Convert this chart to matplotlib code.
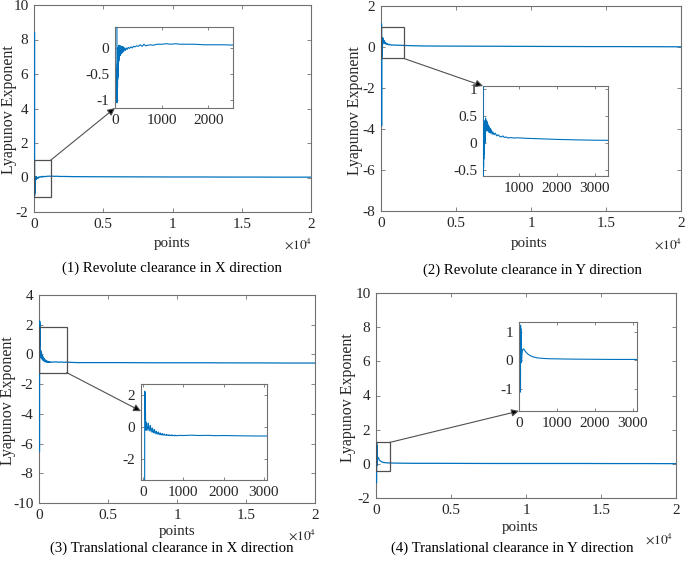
import matplotlib
matplotlib.use('Agg')
import matplotlib.pyplot as plt
from matplotlib.patches import Rectangle, ConnectionPatch

plt.rcParams['font.family'] = ['Liberation Serif', 'DejaVu Serif']
plt.rcParams['mathtext.fontset'] = 'stix'
plt.rcParams['axes.unicode_minus'] = False

# ---------------- data ----------------
captions = ["(1) Revolute clearance in X direction",
            "(2) Revolute clearance in Y direction",
            "(3) Translational clearance in X direction",
            "(4) Translational clearance in Y direction"]
xlabel = "points"
ylabel = "Lyapunov Exponent"
main_xticks = [0, 5000, 10000, 15000, 20000]
main_xticklabels = ["0", "0.5", "1", "1.5", "2"]

# (1) revolute X
x1 = [40, 42, 44, 46, 48, 50, 52, 54, 56, 58, 60, 62, 64, 66, 68, 70, 72, 75, 78, 82,
      86, 92, 100, 108, 116, 125, 135, 145, 155, 166, 178, 190, 205, 220, 240, 260,
      285, 310, 340, 370, 400, 430, 460, 500, 540, 580, 620, 660, 700, 760, 820, 900,
      1000, 1100, 1200, 1300, 1400, 1500, 1700, 1900, 2100, 2300, 2500, 3000, 4000,
      6000, 8000, 10000, 12000, 14000, 16000, 18000, 20000]
y1 = [8.4, -1.05, -0.7, -0.95, -0.4, -0.85, -0.3, -0.75, -0.2, -0.6, -0.1, -0.55,
      -0.05, -0.45, 0.0, -0.4, 0.02, -0.3, 0.04, -0.25, 0.05, -0.2, 0.03, -0.15, 0.04,
      -0.12, 0.02, -0.1, 0.03, -0.08, 0.02, -0.06, 0.0, -0.05, 0.0, -0.03, 0.01, -0.01,
      0.02, 0.0, 0.03, 0.02, 0.04, 0.03, 0.06, 0.03, 0.07, 0.04, 0.05, 0.06, 0.05, 0.07,
      0.07, 0.08, 0.07, 0.08, 0.07, 0.07, 0.07, 0.06, 0.06, 0.06, 0.055, 0.05, 0.045,
      0.04, 0.035, 0.03, 0.03, 0.025, 0.025, 0.02, 0.02]

# (2) revolute Y
x2 = [40, 42, 44, 46, 48, 50, 52, 55, 58, 61, 64, 67, 70, 74, 80, 86, 92, 98, 104, 112,
      120, 128, 136, 145, 155, 165, 175, 185, 198, 212, 226, 240, 260, 280, 300, 330,
      360, 400, 440, 480, 520, 560, 600, 650, 700, 760, 850, 950, 1050, 1200, 1400,
      1600, 1800, 2000, 2300, 2600, 3000, 3400, 4000, 6000, 8000, 10000, 12000, 14000,
      16000, 18000, 20000]
y2 = [1.12, -3.85, 0.3, -0.5, 0.28, -0.45, 0.25, -0.3, 0.2, -0.2, 0.15, -0.15, 0.3,
      -0.1, 0.38, 0.0, 0.42, 0.1, 0.46, 0.25, 0.42, 0.22, 0.4, 0.24, 0.37, 0.22, 0.33,
      0.2, 0.3, 0.19, 0.27, 0.18, 0.24, 0.16, 0.2, 0.15, 0.18, 0.13, 0.15, 0.12, 0.11,
      0.13, 0.1, 0.11, 0.09, 0.1, 0.09, 0.095, 0.09, 0.085, 0.08, 0.075, 0.07, 0.065,
      0.06, 0.055, 0.05, 0.048, 0.045, 0.04, 0.035, 0.03, 0.025, 0.02, 0.02, 0.015, 0.01]

# (3) translational X
x3 = [40, 42, 44, 46, 48, 50, 52, 54, 56, 58, 60, 62, 64, 66, 68, 70, 73, 76, 82, 100,
      125, 130, 150, 175, 180, 200, 225, 230, 250, 275, 280, 300, 325, 330, 350, 375,
      380, 400, 425, 430, 450, 475, 480, 500, 525, 530, 555, 580, 585, 610, 640, 645,
      680, 710, 715, 750, 790, 795, 840, 900, 1000, 1200, 1400, 1600, 1800, 2000, 2200,
      2500, 2800, 3100, 4000, 6000, 8000, 10000, 12000, 14000, 16000, 18000, 20000]
y3 = [-6.5, 2.25, 1.5, 2.2, 1.2, 2.0, 1.0, 1.7, 0.8, 1.3, 0.5, 0.9, 0.1, 0.35, -0.1,
      0.2, -0.15, -0.2, 0.3, 0.05, -0.2, 0.25, -0.05, -0.25, 0.1, -0.15, -0.32, -0.05,
      -0.25, -0.37, -0.15, -0.3, -0.42, -0.25, -0.36, -0.45, -0.3, -0.4, -0.48, -0.36,
      -0.43, -0.5, -0.4, -0.46, -0.5, -0.43, -0.49, -0.52, -0.45, -0.5, -0.52, -0.47,
      -0.51, -0.53, -0.48, -0.52, -0.54, -0.5, -0.53, -0.51, -0.52, -0.5, -0.52, -0.51,
      -0.53, -0.52, -0.53, -0.54, -0.55, -0.55, -0.55, -0.55, -0.56, -0.56, -0.56,
      -0.57, -0.57, -0.58, -0.58]

# (4) translational Y
x4 = [40, 42, 44, 46, 48, 50, 52, 54, 56, 58, 61, 64, 67, 70, 76, 85, 100, 115, 130, 150,
      175, 200, 250, 300, 350, 400, 500, 600, 700, 800, 1000, 1200, 1500, 2000, 2500,
      3000, 3200, 4000, 6000, 8000, 10000, 12000, 14000, 16000, 18000, 20000]
y4 = [-1.1, 1.22, 0.5, 1.1, 0.3, 0.9, 0.1, 0.6, -0.05, 0.3, -0.08, 0.05, -0.07, 0.0,
      0.15, 0.3, 0.38, 0.4, 0.38, 0.34, 0.3, 0.26, 0.2, 0.16, 0.13, 0.11, 0.08, 0.07,
      0.06, 0.055, 0.05, 0.045, 0.04, 0.035, 0.03, 0.03, 0.03, 0.03, 0.025, 0.02, 0.02,
      0.02, 0.02, 0.015, 0.015, 0.01]

series_x = [x1, x2, x3, x4]
series_y = [y1, y2, y3, y4]

main_ylims = [(-2, 10), (-8, 2), (-10, 4), (-2, 10)]
main_yticks = [[-2, 0, 2, 4, 6, 8, 10], [-8, -6, -4, -2, 0, 2],
               [-10, -8, -6, -4, -2, 0, 2, 4], [-2, 0, 2, 4, 6, 8, 10]]
# zoom rectangles in main axes: (x0, x1, y0, y1)
zoom_rects = [(0, 1200, -1.15, 1.0), (0, 1530, -0.56, 1.0),
              (0, 2000, -1.22, 1.85), (0, 900, -0.42, 1.25)]
inset_xlims = [(0, 2530), (35, 3350), (-50, 3080), (0, 3110)]
inset_ylims = [(-1.15, 0.4), (-0.61, 1.05), (-3.3, 2.7), (-1.76, 1.33)]
inset_xticks = [[0, 1000, 2000], [1000, 2000, 3000], [0, 1000, 2000, 3000],
                [0, 1000, 2000, 3000]]
inset_yticks = [[-1, -0.5, 0], [-0.5, 0, 0.5, 1], [-2, 0, 2], [-1, 0, 1]]
inset_yticklabels = [["-1", "-0.5", "0"], ["-0.5", "0", "0.5", "1"],
                     ["-2", "0", "2"], ["-1", "0", "1"]]

# ---------------- layout (pixels) ----------------
W, H = 685, 565
fig = plt.figure(figsize=(W / 100, H / 100), dpi=100)
fig.patch.set_facecolor('white')


def box(l, t, r, b):
    return [l / W, 1 - b / H, (r - l) / W, (b - t) / H]


main_boxes = [(34, 5, 311, 212), (381, 6, 681, 211), (39, 295, 315, 503), (376, 293, 676, 498)]
inset_boxes = [(115, 27, 233, 108), (483, 86, 608, 176), (141, 384, 267, 480), (519, 322, 637, 411)]
ylabel_pos = [(9, 110), (355, 111), (8, 401), (348, 398)]
xlabel_pos = [(172, 243), (529, 243), (177, 532), (520, 528)]
exp_pos = [(298, 244), (668, 244), (302, 535), (659, 539)]
caption_pos = [(172, 268), (532, 270), (172, 548), (512, 548)]
# arrow: (corner of rect in main data coords, target in inset data coords)
arrow_from = [(1200, 1.0), (1530, -0.56), (2000, -1.22), (900, 1.25)]
arrow_to = [(0, -1.15), (35, 1.05), (-50, 1.0), (0, -1.76)]

LINE = '#0072BD'
AXC = '#707070'
TXT = '#262626'
FS = 11


def style(ax, fs):
    for s in ax.spines.values():
        s.set_color(AXC)
        s.set_linewidth(0.8)
    ax.tick_params(direction='in', top=True, right=True, length=3, width=0.6,
                   colors=AXC, labelcolor=TXT, labelsize=fs, pad=4)


for i in range(4):
    ax = fig.add_axes(box(*main_boxes[i]))
    ax.plot(series_x[i], series_y[i], color=LINE, lw=0.9, zorder=3)
    ax.set_xlim(0, 20000)
    ax.set_ylim(*main_ylims[i])
    ax.set_xticks(main_xticks)
    ax.set_xticklabels(main_xticklabels)
    ax.set_yticks(main_yticks[i])
    style(ax, FS)
    x0, xa, y0, ya = zoom_rects[i]
    ax.add_patch(Rectangle((x0, y0), xa - x0, ya - y0, fill=False,
                           edgecolor='#505050', lw=0.9, zorder=5))

    ins = fig.add_axes(box(*inset_boxes[i]))
    ins.set_facecolor('white')
    ins.plot(series_x[i], series_y[i], color=LINE, lw=0.8, zorder=3)
    ins.set_xlim(*inset_xlims[i])
    ins.set_ylim(*inset_ylims[i])
    ins.set_xticks(inset_xticks[i])
    ins.set_yticks(inset_yticks[i])
    ins.set_yticklabels(inset_yticklabels[i])
    style(ins, FS)
    ins.tick_params(length=2.5)

    con = ConnectionPatch(xyA=arrow_from[i], coordsA=ax.transData,
                          xyB=arrow_to[i], coordsB=ins.transData,
                          arrowstyle='-|>', mutation_scale=11, lw=0.8,
                          edgecolor='#505050', facecolor='black', zorder=10)
    fig.add_artist(con)

    lx, ly = ylabel_pos[i]
    fig.text(lx / W, 1 - ly / H, ylabel, rotation=90, ha='center', va='center',
             fontsize=11.5, color=TXT)
    px, py = xlabel_pos[i]
    fig.text(px / W, 1 - py / H, xlabel, ha='center', va='center', fontsize=10.8, color=TXT)
    ex, ey = exp_pos[i]
    fig.text(ex / W, 1 - ey / H, r'$\times10^{4}$', ha='center', va='center',
             fontsize=9.5, color=TXT)
    cx, cy = caption_pos[i]
    fig.text(cx / W, 1 - cy / H, captions[i], ha='center', va='center',
             fontsize=10.6, color='black')

fig.savefig('out.png', dpi=100, facecolor='white')
